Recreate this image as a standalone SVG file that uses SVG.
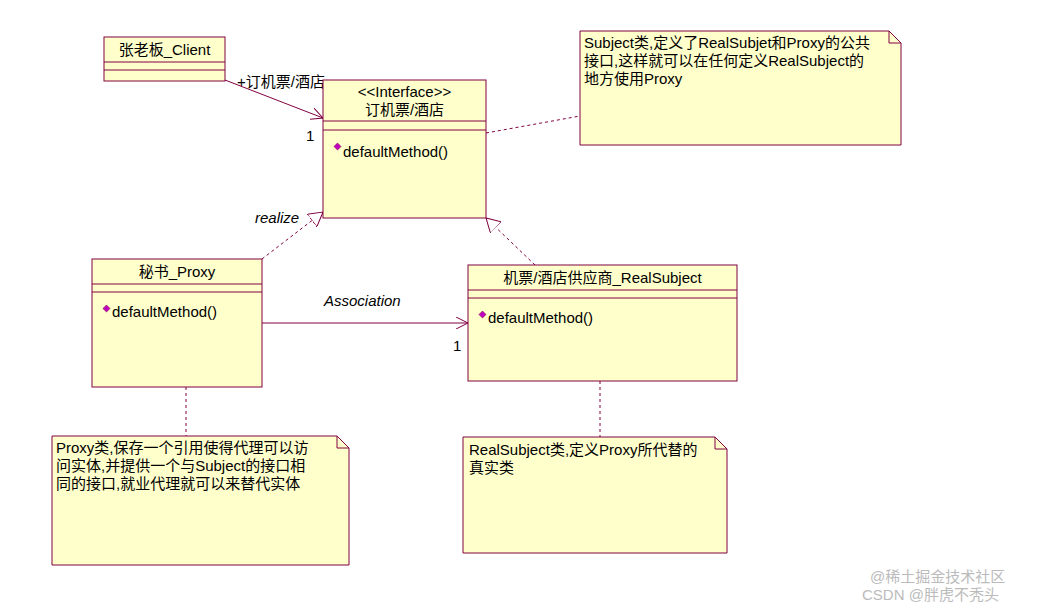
<svg xmlns="http://www.w3.org/2000/svg" width="1050" height="610" viewBox="0 0 1050 610">
<style>
.b{fill:#ffffcc;stroke:#800040;stroke-width:1}
.l{stroke:#800040;stroke-width:1;fill:none}
.d{stroke:#800040;stroke-width:1;fill:none;stroke-dasharray:3,3}
text{font-family:"Liberation Sans","Noto Sans CJK SC",sans-serif;font-size:15px;fill:#000}
.i{font-style:italic}
.m{fill:#c000c0;stroke:#800040;stroke-width:0.5}
.w{fill:#bbb;font-size:15px}
</style>
<defs>
<marker id="open" viewBox="0 0 12 12" refX="12" refY="6" markerWidth="12" markerHeight="12" markerUnits="userSpaceOnUse" orient="auto"><path d="M0,0 L12,6 L0,12" fill="none" stroke="#800040"/></marker>
<marker id="tri" viewBox="0 0 14 16" refX="14" refY="8" markerWidth="14" markerHeight="16" markerUnits="userSpaceOnUse" orient="auto"><path d="M0,0 L14,8 L0,16 Z" fill="#fff" stroke="#800040"/></marker>
</defs>
<rect width="1050" height="610" fill="#fff"/>
<g id="connectors">
<line class="l" x1="225" y1="80" x2="323" y2="118" marker-end="url(#open)"/>
<line class="d" x1="486" y1="133" x2="580" y2="116"/>
<line class="d" x1="262" y1="259" x2="323" y2="212" marker-end="url(#tri)"/>
<line class="d" x1="535" y1="265" x2="486" y2="218" marker-end="url(#tri)"/>
<line class="l" x1="262" y1="323" x2="468" y2="323" marker-end="url(#open)"/>
<line class="d" x1="186" y1="387" x2="186" y2="436"/>
<line class="d" x1="600" y1="381" x2="600" y2="437"/>
<text x="237" y="87">+订机票/酒店</text>
<text x="306" y="141">1</text>
<text class="i" x="255" y="223">realize</text>
<text class="i" x="324" y="306">Association</text>
<text x="453" y="351">1</text>
</g>
<g id="client">
<rect class="b" x="104" y="37" width="121" height="44"/>
<line class="l" x1="104" y1="62" x2="225" y2="62"/><line class="l" x1="104" y1="70" x2="225" y2="70"/>
<text x="164.5" y="55" text-anchor="middle">张老板_Client</text>
</g>
<g id="interface">
<rect class="b" x="323" y="80" width="163" height="138"/>
<line class="l" x1="323" y1="121" x2="486" y2="121"/><line class="l" x1="323" y1="130" x2="486" y2="130"/>
<text x="404.5" y="97" text-anchor="middle" font-size="13">&lt;&lt;Interface&gt;&gt;</text>
<text x="404.5" y="115" text-anchor="middle">订机票/酒店</text>
<rect class="m" x="335" y="144" width="5" height="5" transform="rotate(45 337.5 146.5)"/>
<text x="343" y="157">defaultMethod()</text>
</g>
<g id="note-subject">
<path class="b" d="M580,31 H889 L901,43 V145 H580 Z"/><path class="l" d="M889,31 V43 H901"/>
<text x="584" y="48">Subject类,定义了RealSubjet和Proxy的公共</text>
<text x="584" y="66">接口,这样就可以在任何定义RealSubject的</text>
<text x="584" y="84">地方使用Proxy</text>
</g>
<g id="proxy">
<rect class="b" x="92" y="259" width="170" height="128"/>
<line class="l" x1="92" y1="284" x2="262" y2="284"/><line class="l" x1="92" y1="292" x2="262" y2="292"/>
<text x="177" y="277" text-anchor="middle">秘书_Proxy</text>
<rect class="m" x="104" y="306" width="5" height="5" transform="rotate(45 106.5 308.5)"/>
<text x="112" y="317">defaultMethod()</text>
</g>
<g id="realsubject">
<rect class="b" x="468" y="265" width="269" height="116"/>
<line class="l" x1="468" y1="290" x2="737" y2="290"/><line class="l" x1="468" y1="298" x2="737" y2="298"/>
<text x="602.5" y="283" text-anchor="middle">机票/酒店供应商_RealSubject</text>
<rect class="m" x="480" y="312" width="5" height="5" transform="rotate(45 482.5 314.5)"/>
<text x="488" y="323">defaultMethod()</text>
</g>
<g id="note-proxy">
<path class="b" d="M52,436 H337 L349,448 V565 H52 Z"/><path class="l" d="M337,436 V448 H349"/>
<text x="56" y="453">Proxy类,保存一个引用使得代理可以访</text>
<text x="56" y="471">问实体,并提供一个与Subject的接口相</text>
<text x="56" y="489">同的接口,就业代理就可以来替代实体</text>
</g>
<g id="note-realsubject">
<path class="b" d="M463,437 H715 L727,449 V553 H463 Z"/><path class="l" d="M715,437 V449 H727"/>
<text x="469" y="455">RealSubject类,定义Proxy所代替的</text>
<text x="469" y="473">真实类</text>
</g>
<text class="w" x="870" y="582">@稀土掘金技术社区</text>
<text class="w" x="862" y="600">CSDN @胖虎不秃头</text>
</svg>
